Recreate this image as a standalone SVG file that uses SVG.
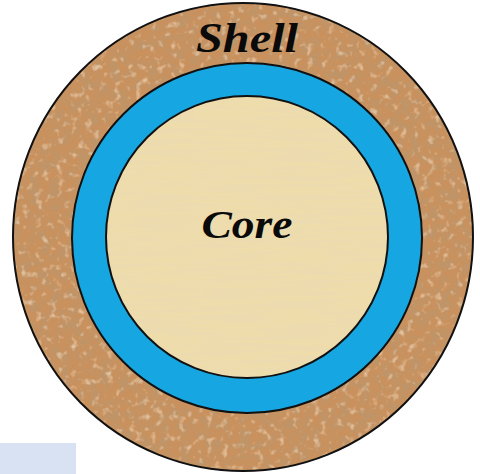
<svg xmlns="http://www.w3.org/2000/svg" width="480" height="474" viewBox="0 0 480 474">
  <style>
    .edge { stroke: #111; stroke-width: 2; }
    .label { font-family: "Liberation Serif", "DejaVu Serif", serif; font-weight: bold; font-style: italic; fill: #0a0a0a; text-anchor: middle; }
  </style>
  <defs>
    <filter id="cork" x="0" y="0" width="100%" height="100%">
      <feTurbulence type="fractalNoise" baseFrequency="0.1" numOctaves="3" seed="4" result="n"/>
      <feColorMatrix in="n" type="matrix" values="0 0 0 0 0.52  0 0 0 0 0.30  0 0 0 0 0.14  3.4 0 0 0 -1.45" result="dark"/>
      <feTurbulence type="fractalNoise" baseFrequency="0.14" numOctaves="2" seed="9" result="n2"/>
      <feColorMatrix in="n2" type="matrix" values="0 0 0 0 0.90  0 0 0 0 0.72  0 0 0 0 0.52  2.2 0 0 0 -1.25" result="light"/>
      <feMerge result="m"><feMergeNode in="dark"/><feMergeNode in="light"/></feMerge>
      <feComposite in="m" in2="SourceGraphic" operator="in"/>
    </filter>
    <filter id="paper" x="0" y="0" width="100%" height="100%">
      <feTurbulence type="fractalNoise" baseFrequency="0.015 0.25" numOctaves="2" seed="2" result="n"/>
      <feColorMatrix in="n" type="matrix" values="0 0 0 0 0.82  0 0 0 0 0.70  0 0 0 0 0.46  1.4 0 0 0 -0.5" result="t"/>
      <feComposite in="t" in2="SourceGraphic" operator="in"/>
    </filter>
  </defs>
  <rect width="480" height="474" fill="#ffffff"/>
  <rect x="0" y="443" width="76" height="31" fill="#d9e2f2"/>
  <g id="shell">
    <ellipse cx="243" cy="237" rx="230" ry="234" fill="#c8915e"/>
    <ellipse cx="243" cy="237" rx="230" ry="234" fill="#000" filter="url(#cork)"/>
    <ellipse cx="243" cy="237" rx="230" ry="234" fill="none" class="edge"/>
    <text class="label" x="247" y="52" font-size="42" textLength="102" lengthAdjust="spacingAndGlyphs">Shell</text>
  </g>
  <g id="ring">
    <circle cx="247" cy="238" r="175" fill="#16a6e2" class="edge"/>
  </g>
  <g id="core">
    <circle cx="247" cy="237" r="141" fill="#eedcab"/>
    <circle cx="247" cy="237" r="141" fill="#000" filter="url(#paper)"/>
    <circle cx="247" cy="237" r="141" fill="none" class="edge"/>
    <text class="label" x="247" y="238" font-size="39" textLength="91" lengthAdjust="spacingAndGlyphs">Core</text>
  </g>
</svg>
